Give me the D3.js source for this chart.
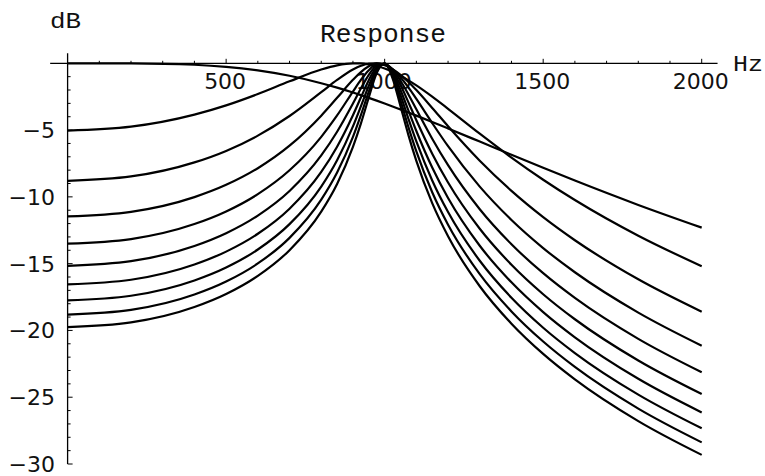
<!DOCTYPE html>
<html><head><meta charset="utf-8">
<script src="https://cdn.jsdelivr.net/npm/d3@7"></script>
<style>html,body{margin:0;padding:0;background:#fff;}svg{display:block;}</style>
</head><body>
<script>
// Frequency samples (Hz)
const freqHz = [0,200,400,500,600,700,800,850,900,925,950,975,1000,1025,1050,1075,1100,1150,1200,1300,1400,1500,1600,1800,2000];
// Response curves in dB, one array per curve
const resp0 = [0,-0.007,-0.11,-0.263,-0.529,-0.935,-1.492,-1.824,-2.191,-2.386,-2.588,-2.796,-3.010,-3.230,-3.455,-3.684,-3.917,-4.392,-4.877,-5.861,-6.850,-7.827,-8.782,-10.606,-12.304];
const resp1 = [-5.034,-4.744,-3.845,-3.152,-2.302,-1.351,-0.465,-0.152,-0.004,-0.010,-0.075,-0.201,-0.389,-0.634,-0.932,-1.275,-1.655,-2.499,-3.408,-5.271,-7.059,-8.716,-10.235,-12.908,-15.193];
const resp2 = [-8.801,-8.472,-7.419,-6.558,-5.417,-3.946,-2.164,-1.246,-0.463,-0.187,-0.028,-0.012,-0.151,-0.442,-0.868,-1.400,-2.007,-3.341,-4.713,-7.293,-9.553,-11.518,-13.246,-16.173,-18.599];
const resp3 = [-11.460,-11.119,-10.017,-9.100,-7.853,-6.169,-3.919,-2.585,-1.239,-0.656,-0.221,-0.010,-0.079,-0.437,-1.038,-1.807,-2.671,-4.475,-6.208,-9.235,-11.730,-13.831,-15.643,-18.664,-21.141];
const resp4 = [-13.504,-13.158,-12.034,-11.092,-9.797,-8.010,-5.504,-3.903,-2.117,-1.246,-0.514,-0.069,-0.049,-0.492,-1.305,-2.334,-3.448,-5.644,-7.630,-10.926,-13.547,-15.716,-17.568,-20.634,-23.133];
const resp5 = [-15.162,-14.813,-13.678,-12.722,-11.401,-9.558,-6.901,-5.127,-3.013,-1.893,-0.869,-0.162,-0.034,-0.580,-1.631,-2.922,-4.260,-6.764,-8.924,-12.388,-15.082,-17.288,-19.163,-22.252,-24.763];
const resp6 = [-16.555,-16.205,-15.063,-14.099,-12.763,-10.885,-8.133,-6.243,-3.887,-2.561,-1.263,-0.279,-0.024,-0.691,-1.997,-3.537,-5.068,-7.807,-10.089,-13.662,-16.401,-18.630,-20.518,-23.622,-26.140];
const resp7 = [-17.756,-17.405,-16.258,-15.290,-13.943,-12.043,-9.229,-7.258,-4.723,-3.227,-1.683,-0.414,-0.018,-0.820,-2.390,-4.158,-5.850,-8.769,-11.137,-14.785,-17.554,-19.798,-21.695,-24.808,-27.331];
const resp8 = [-18.812,-18.460,-17.311,-16.339,-14.986,-13.070,-10.212,-8.184,-5.513,-3.881,-2.118,-0.566,-0.014,-0.966,-2.800,-4.774,-6.598,-9.656,-12.088,-15.788,-18.578,-20.832,-22.734,-25.854,-28.380];
const resp9 = [-19.753,-19.400,-18.249,-17.275,-15.917,-13.990,-11.101,-9.031,-6.256,-4.513,-2.560,-0.731,-0.011,-1.124,-3.218,-5.374,-7.307,-10.473,-12.952,-16.691,-19.495,-21.757,-23.664,-26.788,-29.316];
const xTickValues = [500,1000,1500,2000];
const yTickValues = [-5,-10,-15,-20,-25,-30];
const titleText = "Response";
const xUnit = "Hz";
const yUnit = "dB";

const curves = [resp0,resp1,resp2,resp3,resp4,resp5,resp6,resp7,resp8,resp9];

const W = 765, H = 476;
const svg = d3.select("body").append("svg").attr("width", W).attr("height", H);

const x = d3.scaleLinear().domain([0, 2000]).range([67.6, 701.7]);
const y = d3.scaleLinear().domain([0, -30]).range([63.3, 464]);

const numFont = "'DejaVu Sans', sans-serif";
const txtFont = "'Liberation Mono', monospace";

// axis lines
svg.append("line").attr("x1", x(-55)).attr("x2", x(2050)).attr("y1", y(0)).attr("y2", y(0))
  .attr("stroke", "#000").attr("stroke-width", 1.3);
svg.append("line").attr("x1", x(0)).attr("x2", x(0)).attr("y1", y(0.75)).attr("y2", y(-30))
  .attr("stroke", "#000").attr("stroke-width", 1.3);

// x ticks (pointing up)
const xMinor = d3.range(100, 2001, 100).filter(v => v % 500 !== 0);
svg.append("g").selectAll("line").data(xMinor).join("line")
  .attr("x1", d => x(d)).attr("x2", d => x(d)).attr("y1", y(0)).attr("y2", y(0) - 2.5)
  .attr("stroke", "#000").attr("stroke-width", 1);
svg.append("g").selectAll("line").data(xTickValues).join("line")
  .attr("x1", d => x(d)).attr("x2", d => x(d)).attr("y1", y(0)).attr("y2", y(0) - 4.5)
  .attr("stroke", "#000").attr("stroke-width", 1);
// y ticks (pointing right)
const yMinor = d3.range(-1, -30, -1).filter(v => v % 5 !== 0);
svg.append("g").selectAll("line").data(yMinor).join("line")
  .attr("x1", x(0)).attr("x2", x(0) + 3).attr("y1", d => y(d)).attr("y2", d => y(d))
  .attr("stroke", "#000").attr("stroke-width", 1);
svg.append("g").selectAll("line").data(yTickValues).join("line")
  .attr("x1", x(0)).attr("x2", x(0) + 5).attr("y1", d => y(d)).attr("y2", d => y(d))
  .attr("stroke", "#000").attr("stroke-width", 1);

// tick labels
svg.append("g").selectAll("text").data(xTickValues).join("text")
  .attr("x", d => x(d) - 1).attr("y", 89.3)
  .attr("text-anchor", "middle").attr("font-family", numFont).attr("font-size", 22)
  .attr("fill", "#111").text(d => d);
svg.append("g").selectAll("text").data(yTickValues).join("text")
  .attr("x", 55).attr("y", d => y(d) + 8)
  .attr("text-anchor", "end").attr("font-family", numFont).attr("font-size", 22)
  .attr("fill", "#111").text(d => "\u2212" + Math.abs(d));

// title and units
svg.append("text").attr("x", 383).attr("y", 41.7).attr("text-anchor", "middle")
  .attr("font-family", txtFont).attr("font-size", 25).attr("fill", "#111")
  .attr("textLength", 126).attr("lengthAdjust", "spacingAndGlyphs").text(titleText);
svg.append("text").attr("x", 50).attr("y", 28.3)
  .attr("font-family", txtFont).attr("font-size", 22).attr("fill", "#111")
  .attr("textLength", 31).attr("lengthAdjust", "spacingAndGlyphs").text(yUnit);
svg.append("text").attr("x", 733).attr("y", 70.5)
  .attr("font-family", txtFont).attr("font-size", 22).attr("fill", "#111")
  .attr("textLength", 30).attr("lengthAdjust", "spacingAndGlyphs").text(xUnit);

// curves
const line = d3.line().x((d, i) => x(freqHz[i])).y(d => y(d)).curve(d3.curveMonotoneX);
svg.append("g").selectAll("path").data(curves).join("path")
  .attr("d", d => line(d)).attr("fill", "none").attr("stroke", "#000")
  .attr("stroke-width", 2.2).attr("stroke-linejoin", "round");
</script>
</body></html>
